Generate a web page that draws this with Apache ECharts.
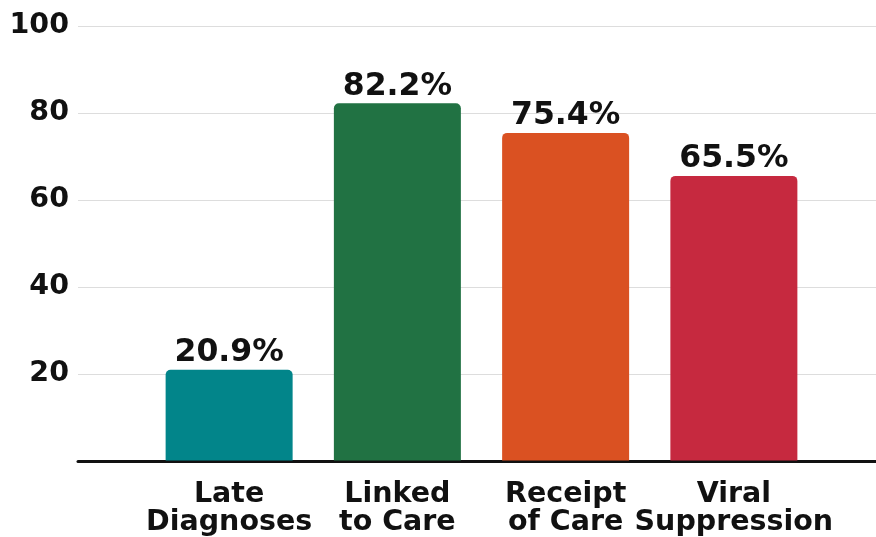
<!DOCTYPE html>
<html><head><meta charset="utf-8">
<script src="https://cdn.jsdelivr.net/npm/echarts@6/dist/echarts.min.js"></script>
<style>html,body{margin:0;padding:0;background:#fff}#c{width:876px;height:537px}</style>
</head><body><div id="c"></div>
<script>
const categories = ['Late\nDiagnoses', 'Linked\nto Care', 'Receipt\nof Care', 'Viral\nSuppression'];
const values = [20.9, 82.2, 75.4, 65.5];
const colors = ['#02858A', '#217243', '#DA5122', '#C6293F'];
const yTicks = [0, 20, 40, 60, 80, 100];

const FONT = 'DejaVu Sans';
const chart = echarts.init(document.getElementById('c'), null, {renderer: 'canvas'});
chart.setOption({
  animation: false,
  grid: [
    {left: 78, right: 0, top: 26, bottom: 76, containLabel: false},
    {left: 145, right: 58, top: 26, bottom: 76, containLabel: false}
  ],
  xAxis: [
    {gridIndex: 0, type: 'value', min: 0, max: 1, axisLine: {show: true, onZero: false, lineStyle: {color: '#111', width: 3}},
     axisTick: {show: false}, axisLabel: {show: false}, splitLine: {show: false}},
    {gridIndex: 1, type: 'category', data: categories, axisLine: {show: false}, axisTick: {show: false},
     axisLabel: {color: '#111', fontFamily: FONT, fontWeight: 'bold', fontSize: 28.5, lineHeight: 28, margin: 20, interval: 0}}
  ],
  yAxis: [
    {gridIndex: 0, type: 'value', min: yTicks[0], max: yTicks[yTicks.length - 1], interval: 20,
     axisLine: {show: false}, axisTick: {show: false},
     axisLabel: {color: '#111', fontFamily: FONT, fontWeight: 'bold', fontSize: 28.5, margin: 9,
       formatter: v => (v === 0 ? '' : String(v))},
     splitLine: {show: true, lineStyle: {color: '#dddddd', width: 1}}},
    {gridIndex: 1, type: 'value', min: yTicks[0], max: yTicks[yTicks.length - 1], show: false}
  ],
  series: [{
    type: 'bar', xAxisIndex: 1, yAxisIndex: 1,
    data: values.map((v, i) => ({value: v, itemStyle: {color: colors[i]}})),
    barWidth: 127,
    itemStyle: {borderRadius: [5, 5, 0, 0]},
    label: {show: true, position: 'top', distance: 1, color: '#111', fontFamily: FONT, fontWeight: 'bold', fontSize: 31.5,
      formatter: p => p.value.toFixed(1) + '%'}
  }]
});
</script></body></html>
